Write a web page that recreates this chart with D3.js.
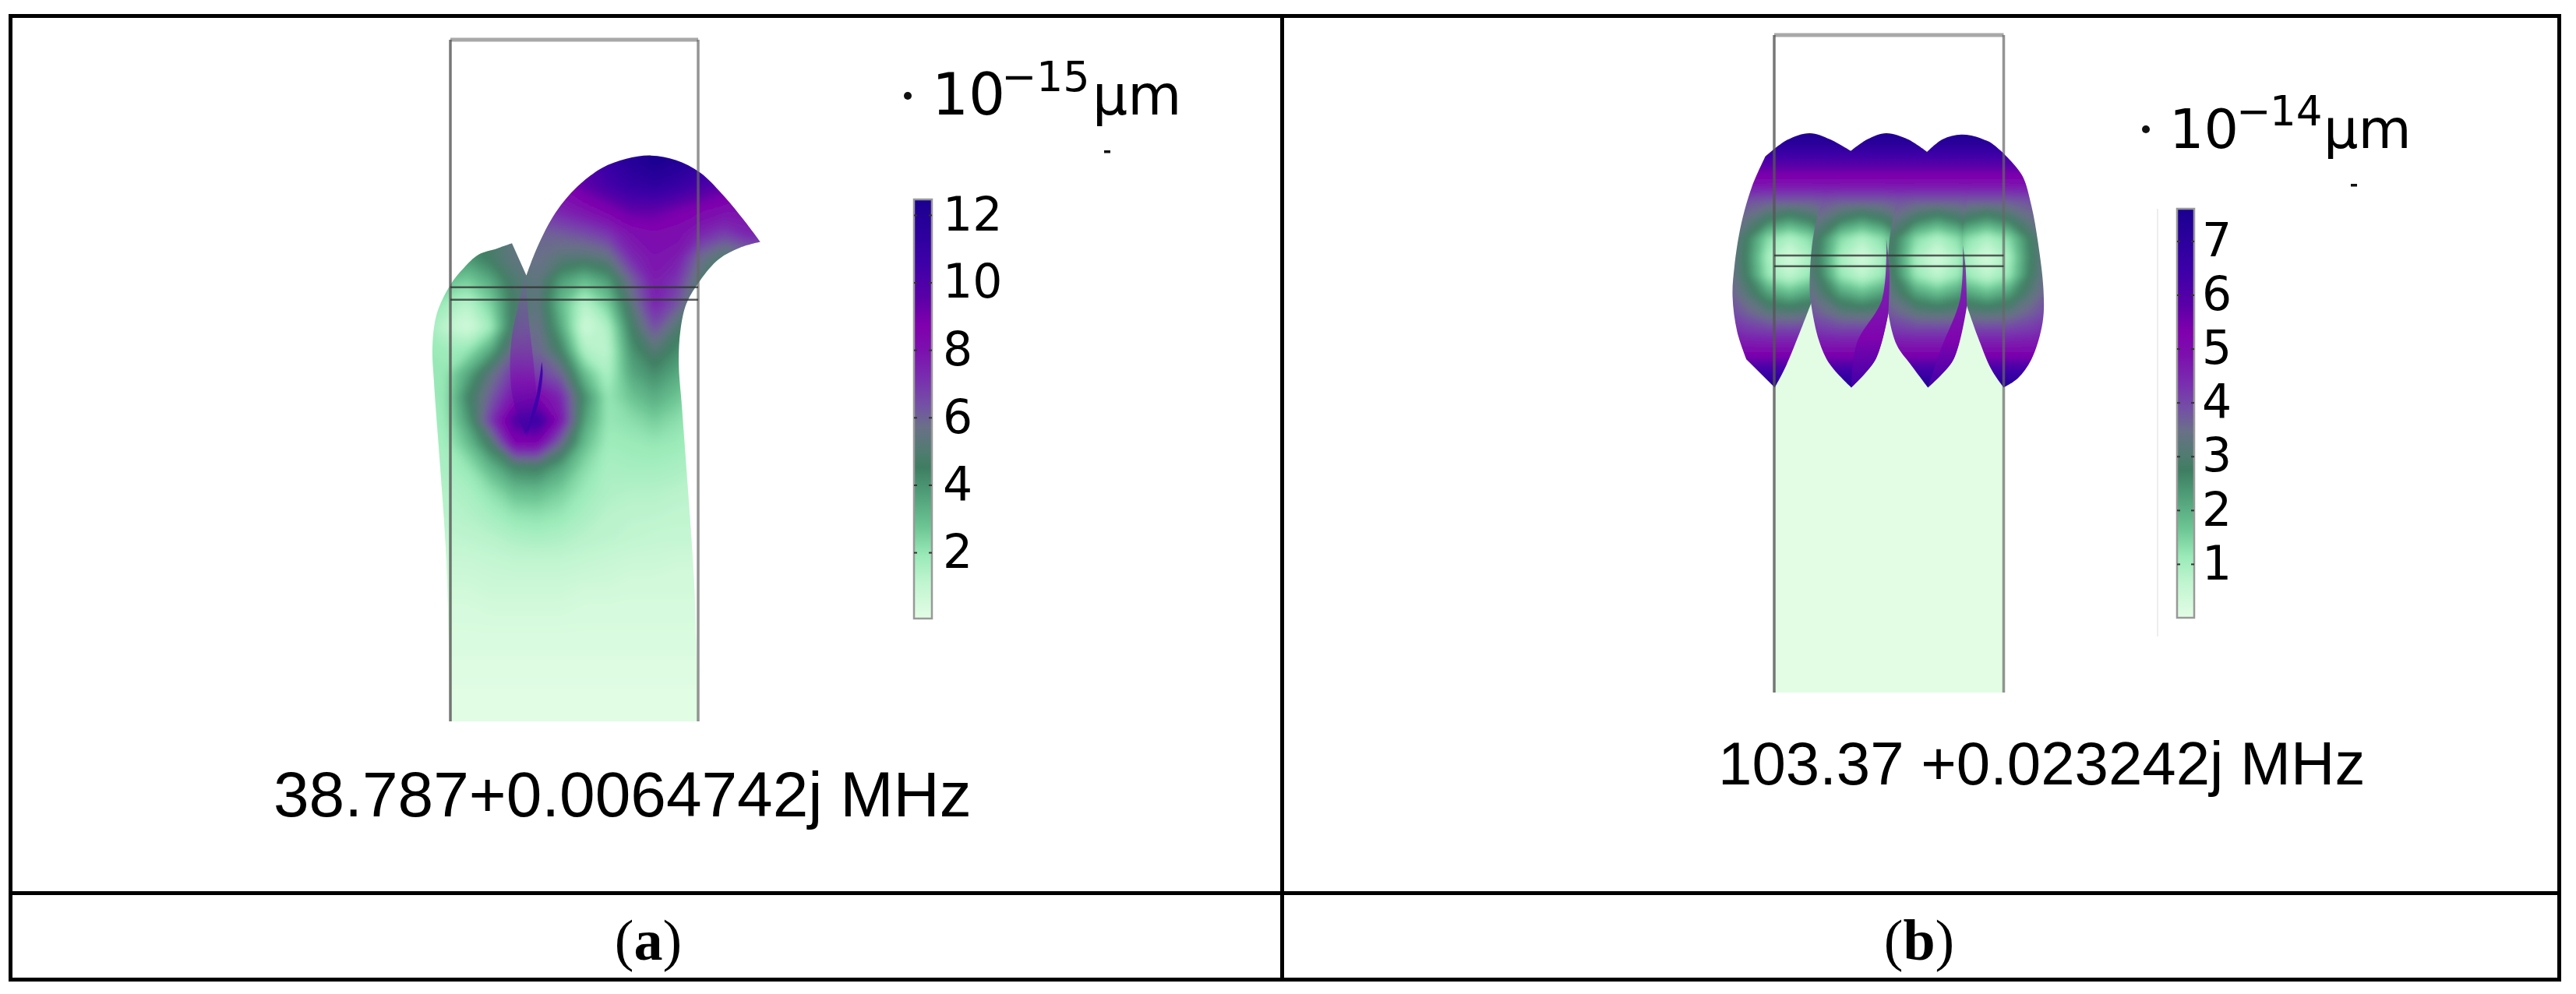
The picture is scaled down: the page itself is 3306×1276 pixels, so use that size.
<!DOCTYPE html>
<html>
<head>
<meta charset="utf-8">
<script src="https://cdn.jsdelivr.net/npm/d3@7"></script>
<style>
  html, body { margin: 0; padding: 0; background: #fff; }
  svg { display: block; }
  text { fill: #000; }
</style>
</head>
<body>
<div id="chart"></div>
<script>
// colour map of both legends, position along the bar 0..1
const colorStops = [0, 0.085, 0.15, 0.22, 0.30, 0.36, 0.395, 0.457, 0.51, 0.58, 0.64, 0.70, 0.765, 0.85, 1];
const colorValues = ['#e3fde5', '#c0f5d0', '#9aeab8', '#6cc493', '#4f9d78', '#3f7d62', '#4f7c70', '#6a7088', '#7450a5', '#7a2ab0', '#7c10ae', '#8000ae', '#5a00a8', '#3d00a8', '#1a0090'];

// legends
const ticksA = [2, 4, 6, 8, 10, 12];
const ticksB = [1, 2, 3, 4, 5, 6, 7];
const legendDomainA = [0.04, 12.46];
const legendDomainB = [0, 7.6];

const captions = ['38.787+0.0064742j MHz', '103.37 +0.023242j MHz'];
const panelLabels = ['a', 'b'];

// panel a: outline of the deformed cell in plot units, one list per smooth run
const outlineA = [
  [[248, 1545], [235, 1200], [215, 1000], [195, 820], [190, 740], [205, 670], [248, 610], [290, 575], [340, 545], [400, 532], [448, 521]],
  [[448, 521], [495, 590]],
  [[495, 590], [530, 530], [590, 455], [660, 400], [740, 360], [820, 340], [900, 333], [980, 343], [1060, 370], [1130, 415], [1200, 470], [1255, 518]],
  [[1255, 518], [1190, 530], [1120, 555], [1060, 600], [1015, 650], [995, 710], [990, 780], [1000, 870], [1020, 1050], [1040, 1250], [1053, 1545]]
];
const foldA = [[[492, 590], [470, 650], [448, 720], [442, 790], [450, 850], [470, 895], [492, 930]], [[492, 930], [525, 880], [520, 790], [505, 700], [492, 590]]];
const foldValues = [5.6, 6.6, 8.2, 11];
const sliverA = [[[545, 775], [548, 800], [535, 860], [515, 900], [495, 935]], [[495, 935], [510, 890], [530, 840], [545, 775]]];

// panel a: displacement, rows from top to bottom
const fieldColsA = 16, fieldX0A = 152, fieldDxA = 75.87, fieldY0A = 250, fieldDyA = 50.04;
const fieldA = [
  [4, 4, 5, 6, 7, 8, 9, 10, 11, 12, 12.4, 12.4, 12, 11, 10, 9],
  [4, 4, 5, 6, 7, 8, 9, 10, 11, 12, 12.4, 12.4, 12, 11, 10, 9],
  [4, 4, 5, 6, 7, 8, 9, 10, 11, 11.8, 12.4, 12, 11.5, 10.5, 9.5, 9],
  [4, 4, 5, 6, 6.5, 7.5, 8.5, 9.5, 10.3, 11, 11.3, 10.9, 10.2, 9.5, 9, 9],
  [4, 4, 4.5, 5, 6, 7, 7.5, 8, 8.7, 9.5, 9.5, 9, 8.6, 8.2, 8, 8],
  [4, 4, 4, 4.5, 5.5, 6, 6.2, 6.5, 7, 8, 8.4, 8.2, 7.4, 6.8, 7.5, 7.5],
  [4.4, 4.4, 4, 4.8, 5.5, 5.8, 5.3, 5.2, 5.5, 7.3, 8, 7.7, 5.8, 5, 5.5, 5.5],
  [3.5, 3, 2.6, 3.5, 5, 5.5, 3.8, 3, 3.8, 6, 7.7, 7, 5, 4.3, 4, 4],
  [2.5, 1.8, 1.3, 2.5, 4.8, 5.5, 3, 1.3, 2.6, 5.3, 7.5, 6.3, 4.5, 4, 3, 3],
  [2, 1.2, 0.6, 1.8, 5, 5.8, 3.5, 0.7, 1.5, 4.6, 6.5, 5, 3.8, 3, 3, 3],
  [2, 1.8, 2, 3.5, 6, 6, 4.5, 1.5, 1.2, 4, 5.2, 4.2, 3, 2.5, 2, 2],
  [2, 2, 3.5, 5.5, 7, 6.8, 6, 3, 1.5, 3.5, 4.2, 3.5, 2.5, 2, 2, 2],
  [1.8, 2, 4.4, 6.2, 8, 8.5, 7.4, 4.2, 2, 2.8, 3.4, 2.8, 2, 1.8, 1.8, 1.8],
  [1.7, 1.9, 3.8, 7, 10, 11, 8, 3.7, 2, 2.2, 2.6, 2.2, 1.8, 1.6, 1.6, 1.6],
  [1.6, 1.7, 2.9, 4.8, 8.5, 8.5, 5.8, 3, 1.8, 1.9, 2, 1.9, 1.6, 1.5, 1.5, 1.5],
  [1.5, 1.6, 2, 3.2, 4.4, 4.6, 3.6, 2.3, 1.6, 1.7, 1.7, 1.6, 1.4, 1.4, 1.4, 1.4],
  [1.3, 1.4, 1.6, 2.2, 3, 3.1, 2.6, 1.9, 1.5, 1.4, 1.4, 1.3, 1.2, 1.2, 1.2, 1.2],
  [1.2, 1.3, 1.4, 1.7, 2.1, 2.2, 2, 1.6, 1.3, 1.2, 1.2, 1.1, 1.1, 1.1, 1.1, 1.1],
  [1, 1.1, 1.2, 1.3, 1.5, 1.6, 1.5, 1.3, 1.2, 1.1, 1, 1, 1, 1, 1, 1],
  [0.8, 0.9, 0.9, 1, 1.1, 1.1, 1.1, 1, 0.9, 0.8, 0.8, 0.7, 0.7, 0.7, 0.7, 0.7],
  [0.6, 0.7, 0.7, 0.8, 0.8, 0.8, 0.8, 0.7, 0.7, 0.6, 0.6, 0.6, 0.6, 0.6, 0.6, 0.6],
  [0.5, 0.5, 0.5, 0.6, 0.6, 0.6, 0.6, 0.5, 0.5, 0.5, 0.5, 0.5, 0.5, 0.5, 0.5, 0.5],
  [0.4, 0.4, 0.4, 0.4, 0.4, 0.4, 0.4, 0.4, 0.4, 0.4, 0.4, 0.4, 0.4, 0.4, 0.4, 0.4],
  [0.3, 0.3, 0.3, 0.3, 0.3, 0.3, 0.3, 0.3, 0.3, 0.3, 0.3, 0.3, 0.3, 0.3, 0.3, 0.3],
  [0.2, 0.2, 0.2, 0.2, 0.2, 0.2, 0.2, 0.2, 0.2, 0.2, 0.2, 0.2, 0.2, 0.2, 0.2, 0.2],
  [0.1, 0.1, 0.1, 0.1, 0.1, 0.1, 0.1, 0.1, 0.1, 0.1, 0.1, 0.1, 0.1, 0.1, 0.1, 0.1],
  [0.05, 0.05, 0.05, 0.05, 0.05, 0.05, 0.05, 0.05, 0.05, 0.05, 0.05, 0.05, 0.05, 0.05, 0.05, 0.05]
];

// panel b: the four petals, drawn back to front, with the centre of the ring in each
const petal1 = [
  [[568, 323], [490, 298], [415, 285], [330, 300], [250, 335]],
  [[250, 335], [200, 400], [160, 480], [135, 570], [128, 635], [145, 710], [180, 770]],
  [[180, 770], [285, 830]],
  [[285, 830], [330, 780], [420, 650]],
  [[420, 650], [500, 520], [568, 323]]
];
const petal4 = [
  [[985, 400], [1060, 300], [1130, 325]],
  [[1130, 325], [1205, 375], [1240, 440], [1265, 520], [1285, 620], [1282, 690], [1240, 770], [1190, 810], [1137, 830]],
  [[1137, 830], [1090, 790], [1040, 720], [1000, 655]],
  [[1000, 655], [980, 520], [985, 400]]
];
const petal2 = [
  [[568, 323], [630, 298], [700, 285], [780, 298], [852, 325]],
  [[852, 325], [780, 470], [708, 670]],
  [[708, 670], [660, 770], [600, 810], [570, 830]],
  [[570, 830], [490, 780], [450, 730], [420, 650], [415, 610], [430, 500], [470, 420], [568, 323]]
];
const petal3 = [
  [[852, 325], [910, 298], [980, 288], [1060, 298], [1130, 325]],
  [[1130, 325], [1030, 380], [990, 470], [985, 525], [998, 655]],
  [[998, 655], [950, 770], [890, 810], [855, 830]],
  [[855, 830], [790, 780], [740, 740], [708, 670], [705, 600], [715, 500], [760, 400], [852, 325]]
];
const petalOutlines = [petal1, petal4, petal2, petal3];
const petalCentres = [340, 1075, 610, 890];

const flapsB = [
  [[[700, 510], [685, 640], [590, 735], [570, 830]], [[570, 830], [660, 770], [708, 670]], [[708, 670], [712, 580], [700, 510]]],
  [[[985, 525], [975, 640], [905, 745], [855, 830]], [[855, 830], [950, 770], [1000, 655]], [[1000, 655], [995, 570], [985, 525]]]
];
const flapValues = [3.4, 4.6, 5.2, 6.4];

// panel b: displacement around a ring centre, columns are offsets from that centre
const petalX0 = -240, petalDx = 80, petalY0 = 270, petalDy = 40, petalCols = 7;
const petalField = [
  [7.6, 7.6, 7.6, 7.6, 7.6, 7.6, 7.6],
  [7.1, 7.1, 7.1, 7.1, 7.1, 7.1, 7.1],
  [6, 6, 6, 6, 6, 6, 6],
  [5, 5, 5, 5, 5, 5, 5],
  [4.2, 3.9, 3.8, 3.8, 3.8, 3.9, 4.2],
  [3.9, 3.4, 2.8, 2.4, 2.8, 3.4, 3.9],
  [3.8, 2.8, 1.4, 0.9, 1.4, 2.8, 3.8],
  [3.8, 2.7, 1, 0.35, 1, 2.7, 3.8],
  [3.8, 2.8, 1.2, 0.7, 1.2, 2.8, 3.8],
  [3.9, 3.2, 2.3, 1.9, 2.3, 3.2, 3.9],
  [4.1, 3.7, 3.3, 3.2, 3.3, 3.7, 4.1],
  [4.5, 4.3, 4.2, 4.2, 4.2, 4.3, 4.5],
  [5, 5, 5, 5, 5, 5, 5],
  [6.3, 6.3, 6.3, 6.3, 6.3, 6.3, 6.3],
  [7.4, 7.4, 7.4, 7.4, 7.4, 7.4, 7.4],
  [7.6, 7.6, 7.6, 7.6, 7.6, 7.6, 7.6]
];
const baseB = [[283, 640], [1137, 640], [1137, 1483], [283, 1483]];

const width = 3306, height = 1276;
const svg = d3.select('#chart').append('svg').attr('width', width).attr('height', height);
svg.append('rect').attr('width', width).attr('height', height).attr('fill', '#fff');

const defs = svg.append('defs');
[['softA', 5], ['softB', 3.5]].forEach(f => {
  defs.append('filter').attr('id', f[0])
    .attr('x', '-5%').attr('y', '-5%').attr('width', '110%').attr('height', '110%')
    .append('feGaussianBlur').attr('stdDeviation', f[1]);
});

function colorScale(max) {
  return d3.scaleLinear().domain(colorStops.map(s => s * max)).range(colorValues).clamp(true);
}

// plot units -> page pixels
const xA = d3.scaleLinear().domain([248, 1053]).range([578, 896]);
const yA = d3.scaleLinear().domain([85, 1545]).range([51, 926]);
const xB = d3.scaleLinear().domain([283, 1137]).range([2277, 2571.5]);
const yB = d3.scaleLinear().domain([75, 1483]).range([45, 889]);

// several smooth runs joined into one closed path
function outlinePath(runs, x, y) {
  const line = d3.line().x(d => x(d[0])).y(d => y(d[1])).curve(d3.curveCatmullRom.alpha(0.5));
  return runs.map((run, i) => i === 0 ? line(run) : line(run).replace(/^M/, 'L')).join('') + 'Z';
}

function drawField(g, rows, cols, x0, dx, y0, dy, x, y, color, max, filter) {
  const contours = d3.contours().size([cols, rows.length]).thresholds(d3.range(0.05, max, max / 100));
  // grid cell i has its centre at i + 0.5 in contour space
  const project = d3.geoTransform({
    point: function (px, py) {
      this.stream.point(x(x0 + (px - 0.5) * dx), y(y0 + (py - 0.5) * dy));
    }
  });
  const path = d3.geoPath(project);
  g.append('g').attr('filter', 'url(#' + filter + ')')
    .selectAll('path').data(contours(rows.flat())).enter().append('path')
    .attr('d', path)
    .attr('fill', d => color(d.value));
}

function clipped(id, runs, x, y) {
  defs.append('clipPath').attr('id', id).append('path').attr('d', outlinePath(runs, x, y));
  return svg.append('g').attr('clip-path', 'url(#' + id + ')');
}

function verticalGradient(id, values, color) {
  const grad = defs.append('linearGradient').attr('id', id).attr('x1', 0).attr('x2', 0).attr('y1', 0).attr('y2', 1);
  values.forEach((v, i) => {
    grad.append('stop').attr('offset', i / (values.length - 1)).attr('stop-color', color(v));
  });
}

// panel a
const colorA = colorScale(legendDomainA[1]);
const gA = clipped('clip-a', outlineA, xA, yA);
gA.append('rect').attr('x', 500).attr('y', 0).attr('width', 600).attr('height', 940).attr('fill', colorA(0));
drawField(gA, fieldA, fieldColsA, fieldX0A, fieldDxA, fieldY0A, fieldDyA, xA, yA, colorA, legendDomainA[1], 'softA');

verticalGradient('fold', foldValues, colorA);
gA.append('path').attr('d', outlinePath(foldA, xA, yA)).attr('fill', 'url(#fold)').attr('opacity', 0.65);
gA.append('path').attr('d', outlinePath(sliverA, xA, yA)).attr('fill', '#3c00a8').attr('opacity', 0.9);

// panel b
const colorB = colorScale(legendDomainB[1]);
const baseLine = d3.line().x(d => xB(d[0])).y(d => yB(d[1]));
svg.append('path').attr('d', baseLine(baseB) + 'Z').attr('fill', colorB(0));

petalOutlines.forEach((runs, i) => {
  const g = clipped('clip-petal-' + i, runs, xB, yB);
  drawField(g, petalField, petalCols, petalX0 + petalCentres[i], petalDx, petalY0, petalDy, xB, yB, colorB, legendDomainB[1], 'softB');
});

verticalGradient('flap', flapValues, colorB);
flapsB.forEach(runs => {
  svg.append('path').attr('d', outlinePath(runs, xB, yB)).attr('fill', 'url(#flap)');
});

// cell frames
function drawFrame(x, y, x0, x1, y0, y1, layerA, layerB) {
  svg.append('line').attr('x1', x(x0)).attr('x2', x(x1)).attr('y1', y(y0)).attr('y2', y(y0))
    .attr('stroke', '#a8a8a8').attr('stroke-width', 5);
  svg.append('line').attr('x1', x(x0)).attr('x2', x(x0)).attr('y1', y(y0)).attr('y2', y(y1))
    .attr('stroke', '#555').attr('stroke-opacity', 0.8).attr('stroke-width', 3.5);
  svg.append('line').attr('x1', x(x1)).attr('x2', x(x1)).attr('y1', y(y0)).attr('y2', y(y1))
    .attr('stroke', '#666').attr('stroke-opacity', 0.7).attr('stroke-width', 3.5);
  [layerA, layerB].forEach(v => {
    svg.append('line').attr('x1', x(x0)).attr('x2', x(x1)).attr('y1', y(v)).attr('y2', y(v))
      .attr('stroke', '#333').attr('stroke-opacity', 0.8).attr('stroke-width', 2.5);
  });
}
drawFrame(xA, yA, 248, 1053, 85, 1545, 615, 642);
drawFrame(xB, yB, 283, 1137, 75, 1483, 547, 570);

// legends
function drawLegend(domain, range, barX, barW, ticks, padding) {
  const y = d3.scaleLinear().domain(domain).range(range);
  const grad = defs.append('linearGradient').attr('id', 'bar' + barX).attr('x1', 0).attr('x2', 0).attr('y1', 1).attr('y2', 0);
  colorStops.forEach((s, i) => {
    grad.append('stop').attr('offset', s).attr('stop-color', colorValues[i]);
  });
  svg.append('rect').attr('x', barX).attr('y', range[1]).attr('width', barW).attr('height', range[0] - range[1])
    .attr('fill', 'url(#bar' + barX + ')').attr('stroke', '#999').attr('stroke-width', 2.5);
  const axis = svg.append('g').attr('transform', 'translate(' + (barX + barW) + ',0)')
    .call(d3.axisRight(y).tickValues(ticks).tickSize(-4).tickPadding(padding).tickFormat(d3.format('d')));
  axis.select('.domain').remove();
  axis.selectAll('.tick line').attr('stroke', '#333').attr('stroke-width', 2);
  axis.selectAll('text').attr('font-family', '"DejaVu Sans"').attr('font-size', 60).attr('fill', '#111');
  svg.append('g').attr('transform', 'translate(' + barX + ',0)')
    .call(d3.axisRight(y).tickValues(ticks).tickSize(4).tickFormat(''))
    .call(a => a.select('.domain').remove())
    .selectAll('.tick line').attr('stroke', '#333').attr('stroke-width', 2);
}
drawLegend(legendDomainA, [794, 256], 1173, 23, ticksA, 14);
drawLegend(legendDomainB, [793, 268], 2794, 22, ticksB, 10);

svg.append('line').attr('x1', 2769).attr('x2', 2769).attr('y1', 268).attr('y2', 817).attr('stroke', '#eee').attr('stroke-width', 2);

function label(x, y, size, str, family, anchor) {
  return svg.append('text').attr('x', x).attr('y', y).attr('font-size', size)
    .attr('font-family', family || '"DejaVu Sans"').attr('text-anchor', anchor || 'start').text(str);
}

// unit labels
function drawUnit(dotX, dotY, tenX, base, tenSize, minusX, supBase, supX, exp, supSize, unitX, unitSize, dashX, dashY) {
  svg.append('circle').attr('cx', dotX).attr('cy', dotY).attr('r', 5).attr('fill', '#111');
  label(tenX, base, tenSize, '10');
  label(minusX, supBase, supSize, '\u2212');
  label(supX, supBase, supSize, exp);
  label(unitX, base, unitSize, '\u03bcm');
  svg.append('rect').attr('x', dashX).attr('y', dashY).attr('width', 8).attr('height', 3.5).attr('fill', '#111');
}
drawUnit(1165, 123, 1196, 147, 74, 1285, 117, 1330, '15', 54, 1402, 71, 1417, 193);
drawUnit(2754, 166, 2784, 190, 70, 2870, 161, 2913, '14', 53, 2982, 70, 3017, 236);

// captions
label(351, 1048, 82, captions[0], '"Liberation Sans"');
label(2205, 1007, 78, captions[1], '"Liberation Sans"');

function panelLabel(x, y, letter) {
  const t = label(x, y, 74, '', '"Liberation Serif"', 'middle');
  t.append('tspan').text('(');
  t.append('tspan').attr('font-weight', 'bold').text(letter);
  t.append('tspan').text(')');
}
panelLabel(832, 1232, panelLabels[0]);
panelLabel(2463, 1232, panelLabels[1]);

// table rules
[[11, 3287, 20.5, 20.5, 5], [11, 3287, 1146.5, 1146.5, 5], [11, 3287, 1257.5, 1257.5, 5],
 [13.5, 13.5, 18, 1260, 5], [1645.5, 1645.5, 18, 1260, 5], [3284.5, 3284.5, 18, 1260, 5]].forEach(r => {
  svg.append('line').attr('x1', r[0]).attr('x2', r[1]).attr('y1', r[2]).attr('y2', r[3])
    .attr('stroke', '#000').attr('stroke-width', r[4]);
});
</script>
</body>
</html>
